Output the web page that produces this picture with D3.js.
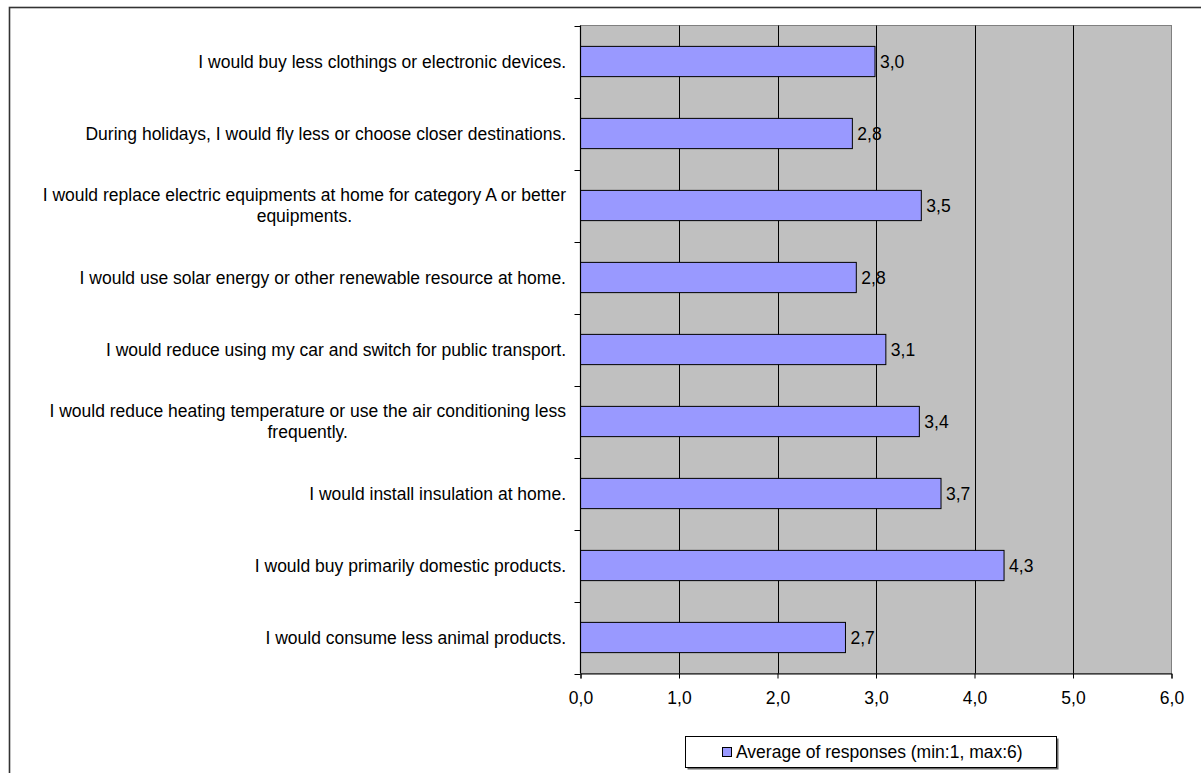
<!DOCTYPE html>
<html>
<head>
<meta charset="utf-8">
<script src="https://cdn.jsdelivr.net/npm/d3@7"></script>
<style>
  html, body { margin: 0; padding: 0; background: #fff; }
  svg text { font-family: Arial, "Liberation Sans", sans-serif; fill: #000; }
</style>
</head>
<body>
<svg id="chart" width="1201" height="773"></svg>
<script>
const categories = [
  "I would buy less clothings or electronic devices.",
  "During holidays, I would fly less or choose closer destinations.",
  "I would replace electric equipments at home for category A or better equipments.",
  "I would use solar energy or other renewable resource at home.",
  "I would reduce using my car and switch for public transport.",
  "I would reduce heating temperature or use the air conditioning less frequently.",
  "I would install insulation at home.",
  "I would buy primarily domestic products.",
  "I would consume less animal products."
];
const values = [2.99, 2.76, 3.46, 2.80, 3.10, 3.44, 3.66, 4.30, 2.69];
const xTicks = [0, 1, 2, 3, 4, 5, 6];
const seriesName = "Average of responses (min:1, max:6)";

(function () {
const svg = d3.select("#chart");
const fontSize = 17.5;
const pLeft = 580.5, pRight = 1171.5, pTop = 25.5, pBottom = 673.5;

// outer frame (extends past window on right/bottom)
svg.append("rect").attr("x", 9.5).attr("y", 7.5).attr("width", 1400).attr("height", 1000)
  .attr("fill", "none").attr("stroke", "#333").attr("stroke-width", 1.6);

const x = d3.scaleLinear().domain([0, 6]).range([pLeft, pRight]);
const y = d3.scaleBand().domain(categories).range([pTop, pBottom])
  .paddingInner(0.58).paddingOuter(0.29);
const step = y.step();

// plot background
svg.append("rect").attr("x", pLeft).attr("y", pTop).attr("width", pRight - pLeft).attr("height", pBottom - pTop)
  .attr("fill", "#C0C0C0").attr("stroke", "#808080").attr("stroke-width", 1);

// gridlines
svg.append("g").selectAll("line").data(xTicks.filter(d => d > 0 && d < 6)).join("line")
  .attr("x1", d => Math.round(x(d)) + 0.5).attr("x2", d => Math.round(x(d)) + 0.5)
  .attr("y1", pTop).attr("y2", pBottom)
  .attr("stroke", "#000").attr("stroke-width", 1);

// bars
svg.append("g").selectAll("rect").data(categories).join("rect")
  .attr("x", x(0))
  .attr("y", d => y(d))
  .attr("width", (d, i) => x(values[i]) - x(0))
  .attr("height", y.bandwidth())
  .attr("fill", "#9999FF").attr("stroke", "#000").attr("stroke-width", 1);

// value labels
const fmt = v => d3.format(".1f")(v).replace(".", ",");
svg.append("g").selectAll("text").data(categories).join("text")
  .attr("x", (d, i) => x(values[i]) + 5)
  .attr("y", d => y(d) + y.bandwidth() / 2)
  .attr("dy", "0.35em")
  .style("font-size", fontSize + "px")
  .text((d, i) => fmt(values[i]));

// x axis
const xAxis = d3.axisBottom(x).tickValues(xTicks).tickFormat(fmt).tickSize(5).tickPadding(13);
const gx = svg.append("g").attr("transform", `translate(0,${pBottom})`).call(xAxis);
gx.select(".domain").attr("stroke", "#000");
gx.selectAll(".tick line").attr("stroke", "#000");
gx.selectAll(".tick text").style("font-size", fontSize + "px").style("font-family", "Arial, 'Liberation Sans', sans-serif");

// y axis line and boundary ticks
svg.append("line").attr("x1", pLeft).attr("x2", pLeft).attr("y1", pTop).attr("y2", pBottom)
  .attr("stroke", "#000").attr("stroke-width", 1.2);
const boundaries = d3.range(categories.length + 1).map(k => pTop + k * step);
svg.append("g").selectAll("line").data(boundaries).join("line")
  .attr("x1", pLeft - 6).attr("x2", pLeft)
  .attr("y1", d => Math.round(d) + 0.5).attr("y2", d => Math.round(d) + 0.5)
  .attr("stroke", "#000").attr("stroke-width", 1);

// category labels with wrapping, centred lines, right-aligned block
const labelRight = 566, maxW = 550, lineH = 21.5;
const measure = svg.append("text").style("font-size", fontSize + "px").attr("visibility", "hidden");
function width(s) { measure.text(s); return measure.node().getComputedTextLength(); }
categories.forEach(cat => {
  const words = cat.split(" ");
  const lines = [];
  let cur = "";
  words.forEach(w => {
    const t = cur ? cur + " " + w : w;
    if (cur && width(t) > maxW) { lines.push(cur); cur = w; } else cur = t;
  });
  lines.push(cur);
  const widths = lines.map(width);
  const bw = d3.max(widths);
  const cy = y(cat) + y.bandwidth() / 2;
  const t = svg.append("text").style("font-size", fontSize + "px")
    .attr("text-anchor", lines.length > 1 ? "middle" : "end");
  lines.forEach((ln, i) => {
    t.append("tspan")
      .attr("x", lines.length > 1 ? labelRight - bw / 2 : labelRight)
      .attr("y", cy + (i - (lines.length - 1) / 2) * lineH)
      .attr("dy", "0.35em")
      .text(ln);
  });
});
measure.remove();

// legend
const lg = svg.append("g");
lg.append("rect").attr("x", 687.5).attr("y", 738.5).attr("width", 371).attr("height", 31)
  .attr("fill", "#666");
lg.append("rect").attr("x", 685.5).attr("y", 736.5).attr("width", 371).attr("height", 31)
  .attr("fill", "#fff").attr("stroke", "#000").attr("stroke-width", 1);
lg.append("rect").attr("x", 722.5).attr("y", 747.5).attr("width", 9).attr("height", 9)
  .attr("fill", "#9999FF").attr("stroke", "#000").attr("stroke-width", 1);
lg.append("text").attr("x", 736).attr("y", 752).attr("dy", "0.35em")
  .style("font-size", fontSize + "px").text(seriesName);
})();
</script>
</body>
</html>
